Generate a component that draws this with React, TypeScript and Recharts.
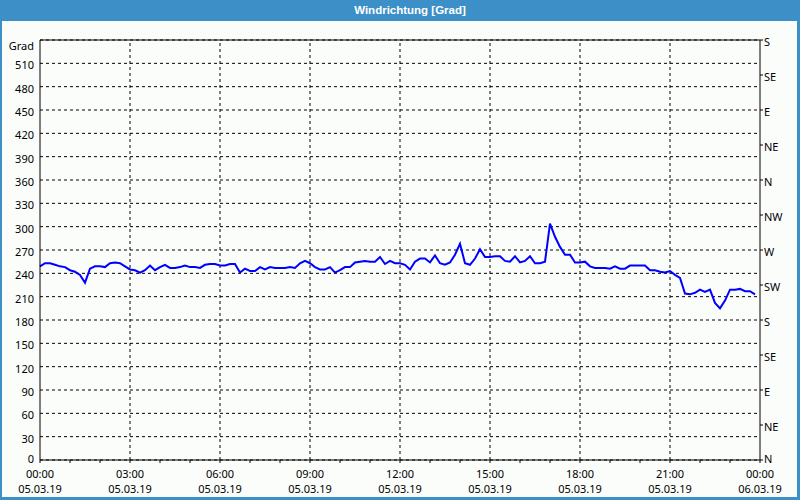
import { LineChart, Line, XAxis, YAxis, CartesianGrid, ReferenceLine } from "recharts";

// wind direction in degrees, one reading every 10 minutes starting 05.03.19 00:00
const DIRECTION = [
  249, 253, 253, 251, 249, 248, 244, 242, 238, 228, 246, 249,
  249, 248, 253, 254, 253, 249, 245, 244, 241, 244, 250, 244,
  248, 251, 247, 247, 248, 250, 248, 248, 247, 251, 252, 252,
  250, 250, 252, 252, 241, 246, 243, 243, 248, 245, 248, 247,
  247, 247, 248, 247, 253, 256, 253, 248, 245, 245, 248, 241,
  244, 248, 248, 254, 255, 256, 255, 255, 261, 252, 256, 253,
  253, 251, 245, 255, 259, 259, 254, 263, 253, 251, 254, 264,
  278, 253, 251, 259, 271, 261, 261, 262, 262, 256, 255, 262,
  254, 256, 262, 253, 253, 255, 304, 287, 274, 264, 264, 254,
  254, 255, 249, 247, 247, 247, 246, 249, 246, 246, 250, 250,
  250, 250, 244, 244, 242, 241, 243, 238, 234, 214, 213, 215,
  219, 216, 219, 202, 195, 205, 219, 219, 220, 217, 217, 213,
];
const STEP_MIN = 10;

const HOUR_TICKS = [
  0, 60, 120, 180, 240, 300, 360, 420, 480, 540, 600, 660, 720,
  780, 840, 900, 960, 1020, 1080, 1140, 1200, 1260, 1320, 1380, 1440,
];
const LABEL_TICKS = [0, 180, 360, 540, 720, 900, 1080, 1260, 1440];
const TIME_LABELS = ["00:00", "03:00", "06:00", "09:00", "12:00", "15:00", "18:00", "21:00", "00:00"];
const DATE_LABELS = ["05.03.19", "05.03.19", "05.03.19", "05.03.19", "05.03.19", "05.03.19", "05.03.19", "05.03.19", "06.03.19"];

const DEG_TICKS = [0, 30, 60, 90, 120, 150, 180, 210, 240, 270, 300, 330, 360, 390, 420, 450, 480, 510, 540];
const UNIT = "Grad";
const COMPASS_TICKS = [0, 45, 90, 135, 180, 225, 270, 315, 360, 405, 450, 495, 540];
const COMPASS = ["N", "NE", "E", "SE", "S", "SW", "W", "NW", "N", "NE", "E", "SE", "S"];

const data = DIRECTION.map((v, i) => ({ t: i * STEP_MIN, dir: v }));

const FONT = "'Noto Sans', 'DejaVu Sans', sans-serif";

const TimeTick = (props: any) => {
  const { x, y, payload } = props;
  const idx = LABEL_TICKS.indexOf(payload.value);
  if (idx < 0) return <g />;
  return (
    <g>
      <text x={x} y={y + 13} textAnchor="middle" fontSize={11} fontFamily={FONT} fill="#000">
        {TIME_LABELS[idx]}
      </text>
      <text x={x} y={y + 28} textAnchor="middle" fontSize={11} fontFamily={FONT} fill="#000">
        {DATE_LABELS[idx]}
      </text>
    </g>
  );
};

const DegTick = (props: any) => {
  const { x, y, payload } = props;
  const top = payload.value === 540;
  const dy = top ? 10 : payload.value === 0 ? 3 : 6;
  return (
    <text x={x} y={y + dy} textAnchor="end" fontSize={11} fontFamily={FONT} fill="#000">
      {top ? UNIT : payload.value}
    </text>
  );
};

const CompassTick = (props: any) => {
  const { x, y, payload } = props;
  const idx = COMPASS_TICKS.indexOf(payload.value);
  const dy = payload.value === 0 ? 3 : 6;
  return (
    <text x={x} y={y + dy} textAnchor="start" fontSize={11} fontFamily={FONT} fill="#000">
      {COMPASS[idx]}
    </text>
  );
};

export default function App() {
  return (
    <div style={{ position: "absolute", left: 0, top: 0, width: 800, height: 500, background: "#3c8fc7" }}>
      <div
        style={{
          position: "absolute",
          left: 0,
          top: 0,
          width: 820,
          height: 21,
          lineHeight: "20px",
          textAlign: "center",
          color: "#fff",
          fontWeight: "bold",
          fontSize: 11.5,
          fontFamily: "'Liberation Sans', sans-serif",
        }}
      >
        Windrichtung [Grad]
      </div>
      <div style={{ position: "absolute", left: 2, top: 21, width: 795, height: 476, background: "#fbfdfb" }} />
      <div style={{ position: "absolute", left: 0, top: 0 }}>
        <LineChart width={800} height={500} data={data} margin={{ top: 40, right: 0, bottom: 0, left: 0 }}>
          <CartesianGrid
            yAxisId="left"
            vertical={false}
            stroke="#000"
            strokeDasharray="3 3"
          />
          <XAxis
            dataKey="t"
            type="number"
            domain={[0, 1440]}
            ticks={HOUR_TICKS}
            interval={0}
            height={40}
            tickSize={3}
            tickMargin={2}
            stroke="#000"
            tick={<TimeTick />}
          />
          <YAxis
            yAxisId="left"
            type="number"
            domain={[0, 540]}
            allowDataOverflow
            ticks={DEG_TICKS}
            interval={0}
            width={40}
            tickSize={0}
            tickMargin={6}
            tickLine={false}
            stroke="#000"
            tick={<DegTick />}
          />
          <YAxis
            yAxisId="right"
            orientation="right"
            type="number"
            domain={[0, 540]}
            allowDataOverflow
            ticks={COMPASS_TICKS}
            interval={0}
            width={40}
            tickSize={3}
            tickMargin={1}
            stroke="#000"
            tick={<CompassTick />}
          />
          {LABEL_TICKS.slice(1, -1).map((t) => (
            <ReferenceLine key={t} x={t} yAxisId="left" stroke="#000" strokeDasharray="3 3" />
          ))}
          <ReferenceLine y={540} yAxisId="left" stroke="#000" />
          <Line
            yAxisId="right"
            dataKey="dir"
            type="linear"
            stroke="none"
            dot={false}
            legendType="none"
            isAnimationActive={false}
          />
          <Line
            yAxisId="left"
            dataKey="dir"
            type="linear"
            stroke="#0000ff"
            strokeWidth={2}
            dot={false}
            isAnimationActive={false}
          />
        </LineChart>
      </div>
    </div>
  );
}
